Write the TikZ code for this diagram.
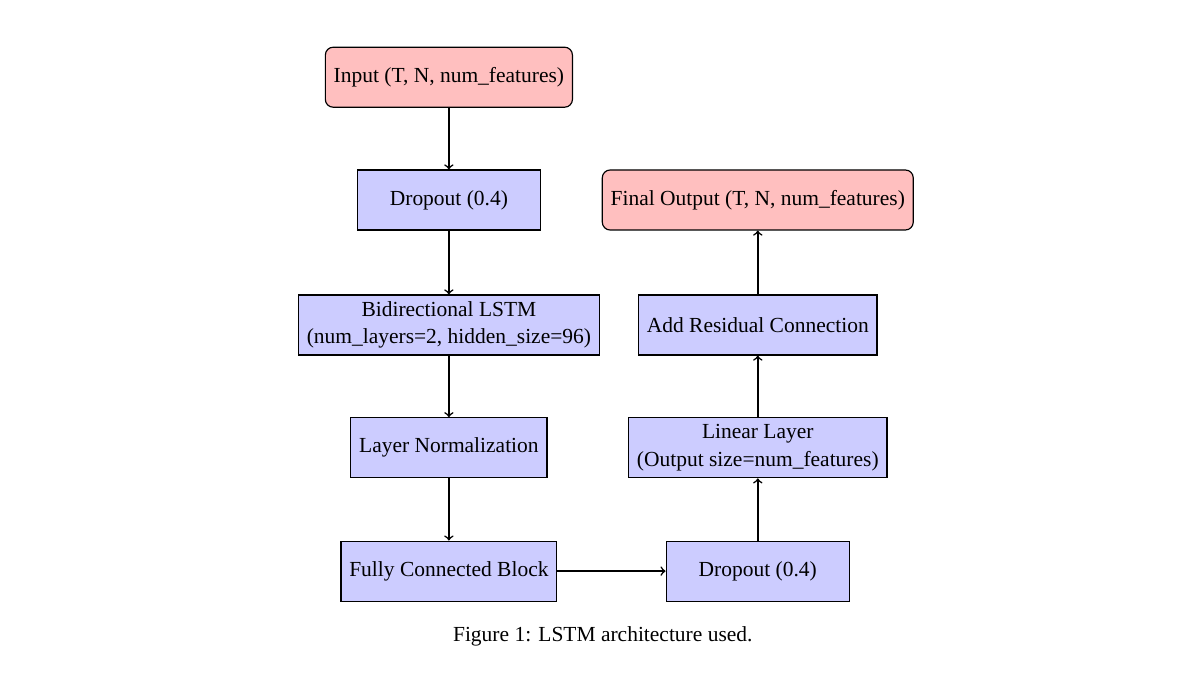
\documentclass[tikz,border=0pt]{standalone}
\usepackage{fontspec}
\setmainfont{Liberation Serif}
\usepackage{tikz}

\begin{document}
\begin{tikzpicture}[
    font=\fontsize{11}{14}\selectfont,
    block/.style = {draw, semithick, fill=blue!20, minimum width=3.3cm, minimum height=1.08cm, inner xsep=0.15cm, align=center},
    io/.style = {draw, semithick, fill=red!25, rounded corners, minimum width=3.3cm, minimum height=1.08cm, inner xsep=0.15cm, align=center}
    ]
    \useasboundingbox (0,0) rectangle (21.6,12.15);

    \node[io] (input) at (8.08,10.76) {Input (T, N, num\_features)};
    \node[block] (drop1) at (8.08,8.55) {Dropout (0.4)};
    \node[block] (lstm) at (8.08,6.30) {Bidirectional LSTM\\(num\_layers=2, hidden\_size=96)};
    \node[block] (norm) at (8.08,4.09) {Layer Normalization};
    \node[block] (fc) at (8.08,1.87) {Fully Connected Block};

    \node[block] (drop2) at (13.64,1.87) {Dropout (0.4)};
    \node[block] (linear) at (13.64,4.09) {Linear Layer\\(Output size=num\_features)};
    \node[block] (resid) at (13.64,6.30) {Add Residual Connection};
    \node[io] (output) at (13.64,8.55) {Final Output (T, N, num\_features)};

    \node (caption) at (10.85,0.70) {Figure 1: LSTM architecture used.};

    \draw[->, thick] (input) -- (drop1);
    \draw[->, thick] (drop1) -- (lstm);
    \draw[->, thick] (lstm) -- (norm);
    \draw[->, thick] (norm) -- (fc);
    \draw[->, thick] (fc) -- (drop2);
    \draw[->, thick] (drop2) -- (linear);
    \draw[->, thick] (linear) -- (resid);
    \draw[->, thick] (resid) -- (output);
\end{tikzpicture}
\end{document}
